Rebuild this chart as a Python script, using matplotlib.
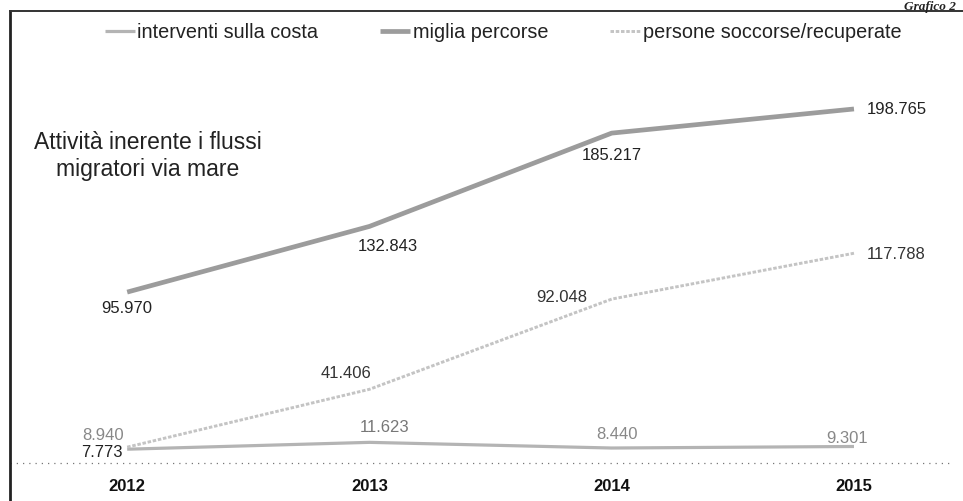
import matplotlib
matplotlib.use("Agg")
import matplotlib.pyplot as plt
from matplotlib.lines import Line2D

# Data
years = ['2012', '2013', '2014', '2015']
interventi = [7.773, 11.623, 8.440, 9.301]
miglia = [95.970, 132.843, 185.217, 198.765]
persone = [8.940, 41.406, 92.048, 117.788]
series_names = ['interventi sulla costa', 'miglia percorse', 'persone soccorse/recuperate']


def fmt(v):
    return f'{v:.3f}'


plt.rcParams['font.family'] = ['Liberation Sans', 'DejaVu Sans']

fig = plt.figure(figsize=(9.63, 5.02), dpi=100)
ax = fig.add_axes([0, 0, 1, 1])
ax.set_xlim(-0.525, 3.45)
ax.set_ylim(-21.3, 260.5)
ax.axis('off')

x = range(len(years))
l_int, = ax.plot(x, interventi, color='#b4b4b4', lw=2.3, solid_capstyle='butt')
l_mig, = ax.plot(x, miglia, color='#9c9c9c', lw=3.4, solid_capstyle='butt')
l_per, = ax.plot(x, persone, color='#c4c4c4', lw=2.1, linestyle=(0, (1.2, 0.6)))

# dotted category axis
ax.axhline(0, xmin=0.01, xmax=0.99, color='#777777', lw=0.9, linestyle=(0, (1, 4)))

# data labels: (dx, dy) in pixels, alignment
px = 0.72
lab_int = [(-5, -2, 'right'), (15, 16, 'center'), (5, 15, 'center'), (-7, 9, 'center')]
lab_mig = [(0, -15, 'center'), (18, -19, 'center'), (0, -21, 'center'), (13, 0, 'left')]
lab_per = [(-3, 13, 'right'), (2, 17, 'right'), (-24, 3, 'right'), (13, 0, 'left')]
col_int = ['#222222', '#777777', '#888888', '#888888']
col_per = ['#888888', '#333333', '#333333', '#333333']

for vals, labs, cols in [(interventi, lab_int, col_int),
                         (miglia, lab_mig, ['#222222'] * 4),
                         (persone, lab_per, col_per)]:
    for i, (v, (dx, dy, ha), c) in enumerate(zip(vals, labs, cols)):
        ax.annotate(fmt(v), (i, v), xytext=(dx * px, dy * px), textcoords='offset points',
                    ha=ha, va='center', fontsize=12, color=c)

# year labels
for i, y in enumerate(years):
    ax.text(i, -12.4, y, ha='center', va='center', fontsize=12, fontweight='bold', color='#111111')

# title inside chart
ax.text(148 / 963, 1 - 156 / 502, 'Attività inerente i flussi\nmigratori via mare',
        transform=fig.transFigure, ha='center', va='center', fontsize=16.5,
        linespacing=1.2, color='#222222')

# legend
leg = ax.legend([l_int, l_mig, l_per], series_names, ncol=3, frameon=False,
                loc='center', bbox_to_anchor=(503 / 963, 1 - 33 / 502),
                bbox_transform=fig.transFigure, fontsize=14.3,
                handlelength=1.5, handletextpad=0.15, columnspacing=3.1)
for t in leg.get_texts():
    t.set_color('#222222')

# scanned page frame
fig.add_artist(Line2D([10 / 963, 10 / 963], [0, 1 - 12 / 502], color='#222222', lw=2.0))
fig.add_artist(Line2D([10 / 963, 1], [1 - 12 / 502, 1 - 12 / 502], color='#333333', lw=1.4))

fig.text(0.993, 0.999, 'Grafico 2', ha='right', va='top', fontsize=9.5,
         fontweight='bold', fontstyle='italic', family='Liberation Serif', color='#222222')

fig.savefig('out.png', dpi=100)
